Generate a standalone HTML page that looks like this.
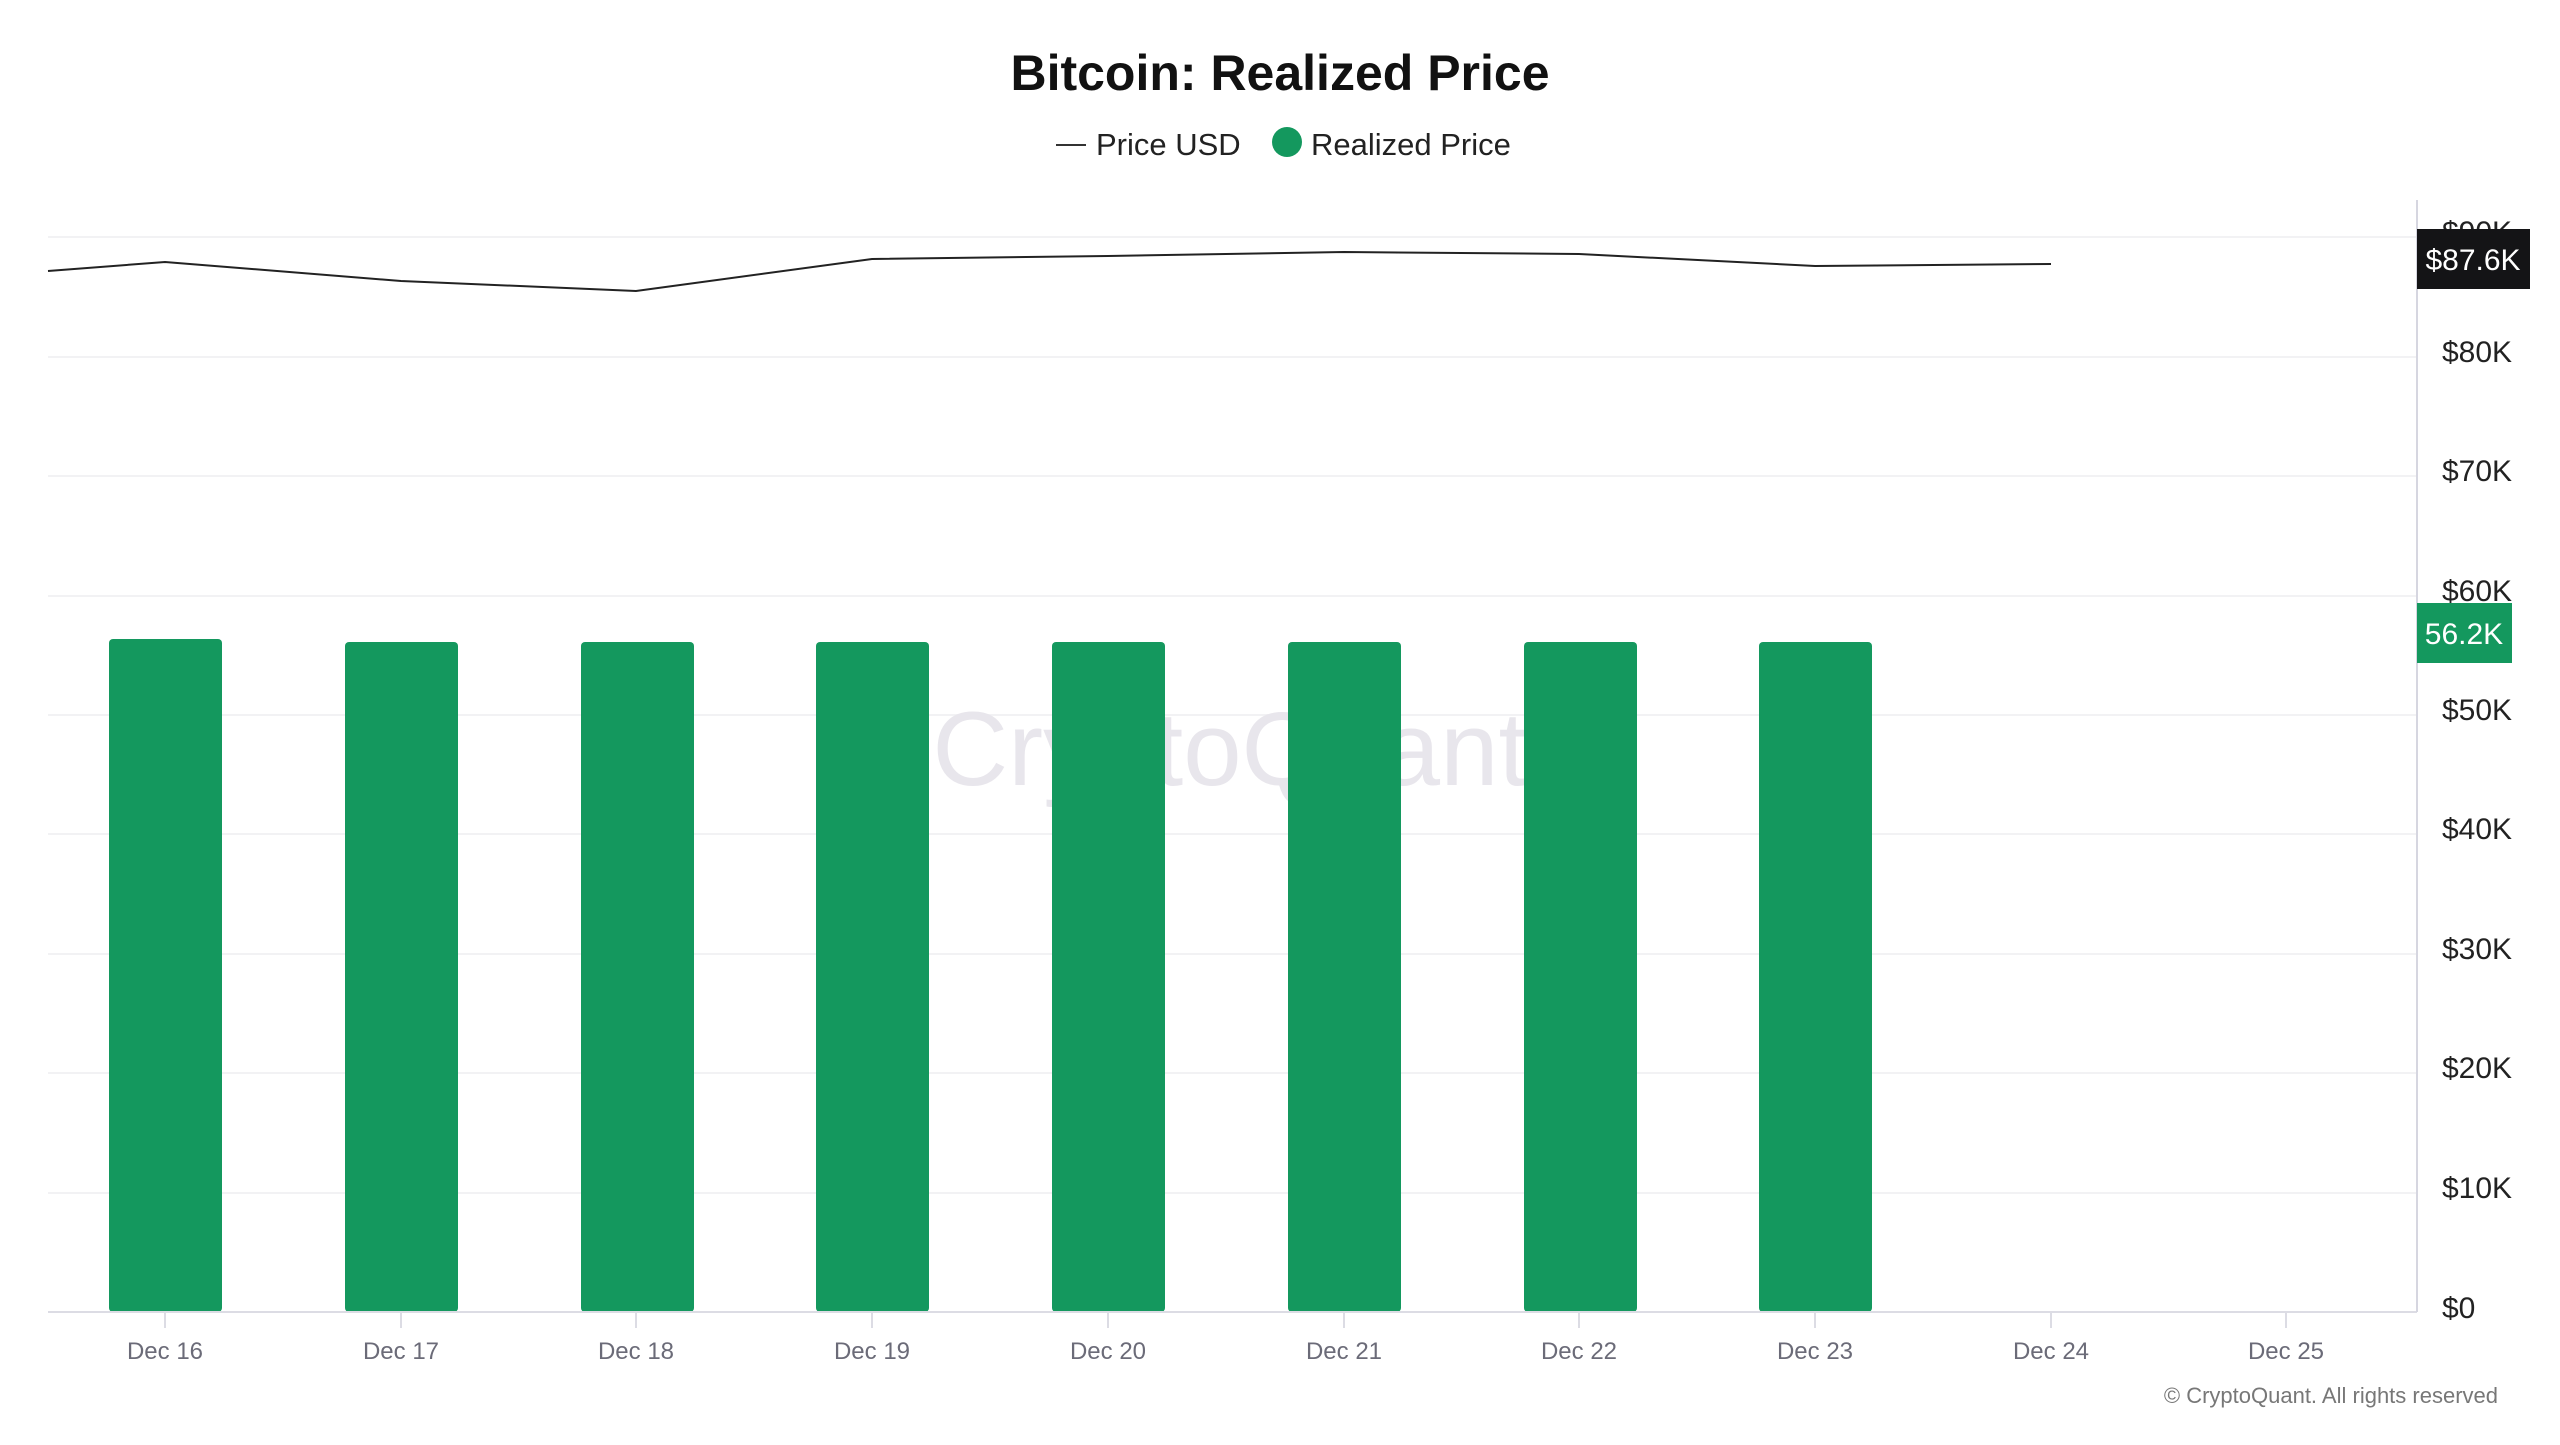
<!DOCTYPE html>
<html><head><meta charset="utf-8"><style>
body{margin:0;background:#fff;width:2560px;height:1440px;overflow:hidden;font-family:"Liberation Sans",sans-serif}
</style></head><body>
<svg width="2560" height="1440" xmlns="http://www.w3.org/2000/svg" font-family="Liberation Sans, sans-serif">
<text x="1280" y="90" text-anchor="middle" font-size="50" font-weight="bold" fill="#111">Bitcoin: Realized Price</text>
<line x1="1056" y1="145" x2="1086" y2="145" stroke="#333" stroke-width="2"/>
<text x="1096" y="155" font-size="31" fill="#222">Price USD</text>
<circle cx="1287" cy="142" r="15" fill="#14985e"/>
<text x="1311" y="155" font-size="31" fill="#222">Realized Price</text>
<g stroke="#f2f2f4" stroke-width="2">
<line x1="48" y1="237" x2="2417" y2="237"/><line x1="48" y1="357" x2="2417" y2="357"/>
<line x1="48" y1="476" x2="2417" y2="476"/><line x1="48" y1="596" x2="2417" y2="596"/>
<line x1="48" y1="715" x2="2417" y2="715"/><line x1="48" y1="834" x2="2417" y2="834"/>
<line x1="48" y1="954" x2="2417" y2="954"/><line x1="48" y1="1073" x2="2417" y2="1073"/>
<line x1="48" y1="1193" x2="2417" y2="1193"/>
</g>
<text x="1230" y="785" text-anchor="middle" font-size="105" fill="#e8e6ec">CryptoQuant</text>
<g fill="#14985e">
<rect x="109" y="639" width="113" height="673" rx="4"/>
<rect x="345" y="642" width="113" height="670" rx="4"/>
<rect x="581" y="642" width="113" height="670" rx="4"/>
<rect x="816" y="642" width="113" height="670" rx="4"/>
<rect x="1052" y="642" width="113" height="670" rx="4"/>
<rect x="1288" y="642" width="113" height="670" rx="4"/>
<rect x="1524" y="642" width="113" height="670" rx="4"/>
<rect x="1759" y="642" width="113" height="670" rx="4"/>
</g>
<line x1="48" y1="1312" x2="2417" y2="1312" stroke="#dcdce4" stroke-width="2"/>
<line x1="2417" y1="200" x2="2417" y2="1312" stroke="#d6d6e0" stroke-width="2"/>
<g stroke="#dcdce4" stroke-width="2">
<line x1="165" y1="1312" x2="165" y2="1328"/><line x1="401" y1="1312" x2="401" y2="1328"/>
<line x1="636" y1="1312" x2="636" y2="1328"/><line x1="872" y1="1312" x2="872" y2="1328"/>
<line x1="1108" y1="1312" x2="1108" y2="1328"/><line x1="1344" y1="1312" x2="1344" y2="1328"/>
<line x1="1579" y1="1312" x2="1579" y2="1328"/><line x1="1815" y1="1312" x2="1815" y2="1328"/>
<line x1="2051" y1="1312" x2="2051" y2="1328"/><line x1="2286" y1="1312" x2="2286" y2="1328"/>
</g>
<g font-size="24" fill="#6b6b78" text-anchor="middle">
<text x="165" y="1359">Dec 16</text><text x="401" y="1359">Dec 17</text><text x="636" y="1359">Dec 18</text>
<text x="872" y="1359">Dec 19</text><text x="1108" y="1359">Dec 20</text><text x="1344" y="1359">Dec 21</text>
<text x="1579" y="1359">Dec 22</text><text x="1815" y="1359">Dec 23</text><text x="2051" y="1359">Dec 24</text>
<text x="2286" y="1359">Dec 25</text>
</g>
<polyline fill="none" stroke="#222" stroke-width="2" points="48,271 165,262 401,281 636,291 872,259 1108,256 1344,252 1579,254 1815,266 2051,264"/>
<g font-size="30" fill="#222">
<text x="2442" y="242">$90K</text><text x="2442" y="362">$80K</text><text x="2442" y="481">$70K</text>
<text x="2442" y="601">$60K</text><text x="2442" y="720">$50K</text><text x="2442" y="839">$40K</text>
<text x="2442" y="959">$30K</text><text x="2442" y="1078">$20K</text><text x="2442" y="1198">$10K</text>
<text x="2442" y="1318">$0</text>
</g>
<rect x="2417" y="229" width="113" height="60" fill="#141416"/>
<text x="2473" y="270" text-anchor="middle" font-size="30" fill="#fff">$87.6K</text>
<rect x="2417" y="603" width="95" height="60" fill="#14985e"/>
<text x="2464" y="644" text-anchor="middle" font-size="30" fill="#fff">56.2K</text>
<text x="2498" y="1403" text-anchor="end" font-size="22" fill="#777">© CryptoQuant. All rights reserved</text>
</svg>
</body></html>
